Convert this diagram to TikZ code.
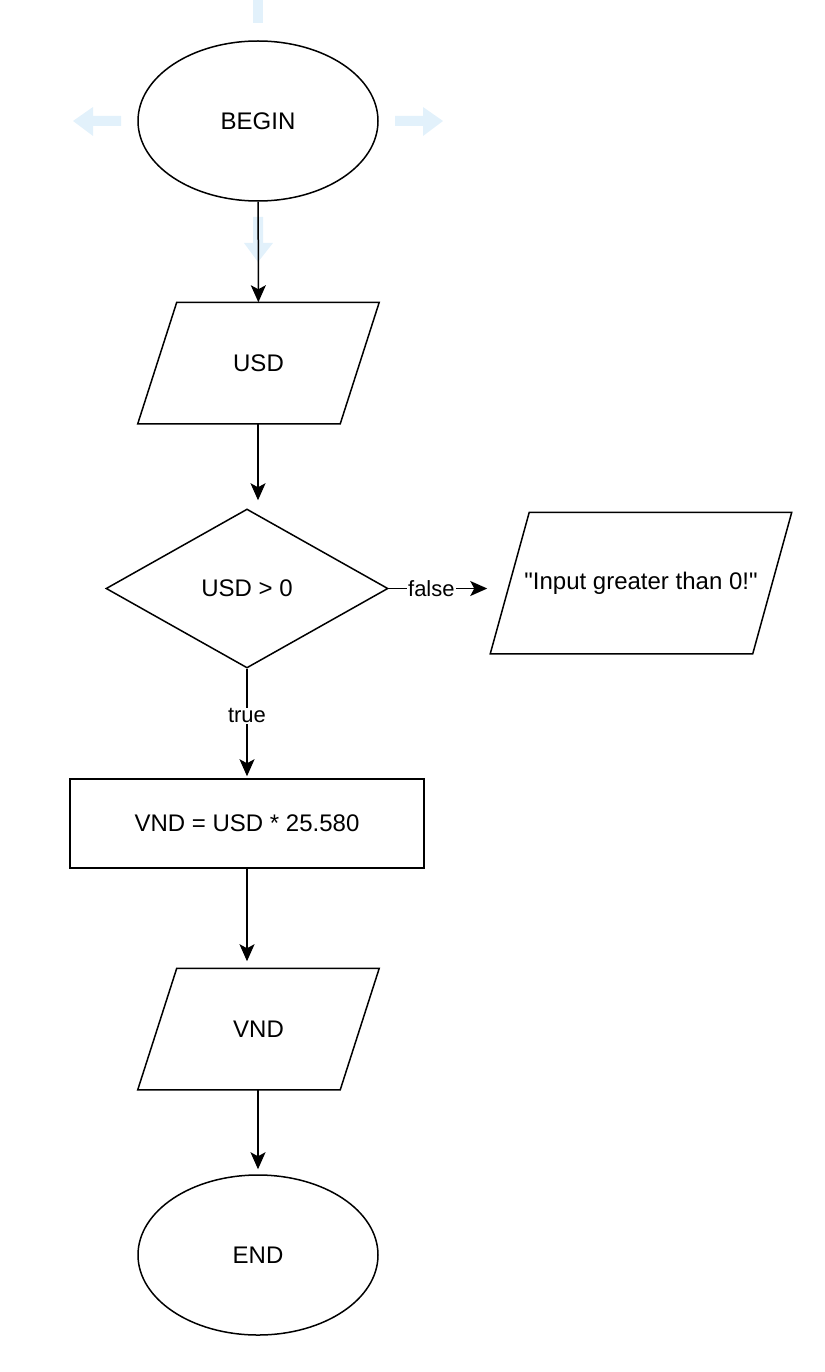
\documentclass[tikz,border=0pt]{standalone}
\usepackage{fontspec}
\setmainfont{Liberation Sans}
\usetikzlibrary{shapes.geometric,arrows.meta}
\definecolor{hover}{RGB}{226,241,251}
\begin{document}
\begin{tikzpicture}[x=1pt,y=-1pt,line width=1.5pt,
  font=\fontsize{24}{28}\selectfont,
  startstop/.style={ellipse,draw,minimum width=240,minimum height=160,inner sep=0},
  io/.style={rectangle,minimum width=240,minimum height=120,inner sep=0},
  decision/.style={diamond,draw,minimum width=282,minimum height=159,inner sep=0},
  process/.style={rectangle,draw,minimum width=354,minimum height=89,inner sep=0},
  arr/.style={-{Stealth[length=17pt,width=15pt,inset=4pt]}},
  lbl/.style={fill=white,inner sep=1pt,font=\fontsize{22}{26}\selectfont}]
\useasboundingbox (0,0) rectangle (824,1372);

% hover arrows
\fill [hover] (253,0) rectangle (263,23);
\fill [hover] (121,116)--(93,116)--(93,107)--(73,121)--(93,136)--(93,126)--(121,126)--cycle;
\fill [hover] (395,116)--(423,116)--(423,107)--(443,121)--(423,136)--(423,126)--(395,126)--cycle;
\fill [hover] (253,217)--(263,217)--(263,243)--(273,243)--(258,262)--(244,243)--(253,243)--cycle;

\node [startstop] (begin) at (258,121) {BEGIN};
\node [io] (usd) at (258.5,363) {USD};
\node [decision] (check) at (247,588.5) {USD > 0};
\node [io,minimum width=300,minimum height=140] (msg) at (641,583) {\textquotedbl Input greater than 0!\textquotedbl};
\node [process] (calc) at (247,823.5) {VND = USD * 25.580};
\node [io] (vnd) at (258.5,1029) {VND};
\node [startstop] (stop) at (258,1255) {END};

% parallelograms
\foreach \n in {usd,msg,vnd}
  \draw ([xshift=39pt]\n.north west) -- (\n.north east) -- ([xshift=-39pt]\n.south east) -- (\n.south west) -- cycle;

\draw [arr] (begin) -- (usd);
\draw [arr,shorten >=8pt] (usd.south -| begin) -- (check.north -| begin) ;
\draw [arr,shorten >=3pt] (check.east) -- (check.east -| msg.west) node [lbl,pos=0.42] {false};
\draw [arr,shorten >=2pt] (check.south) -- (calc.north) node [lbl,pos=0.43] {true};
\draw [arr,shorten >=7pt] (calc.south) -- (calc.south |- vnd.north);
\draw [arr,shorten >=5pt] (vnd.south -| begin) -- (stop);

\end{tikzpicture}
\end{document}
